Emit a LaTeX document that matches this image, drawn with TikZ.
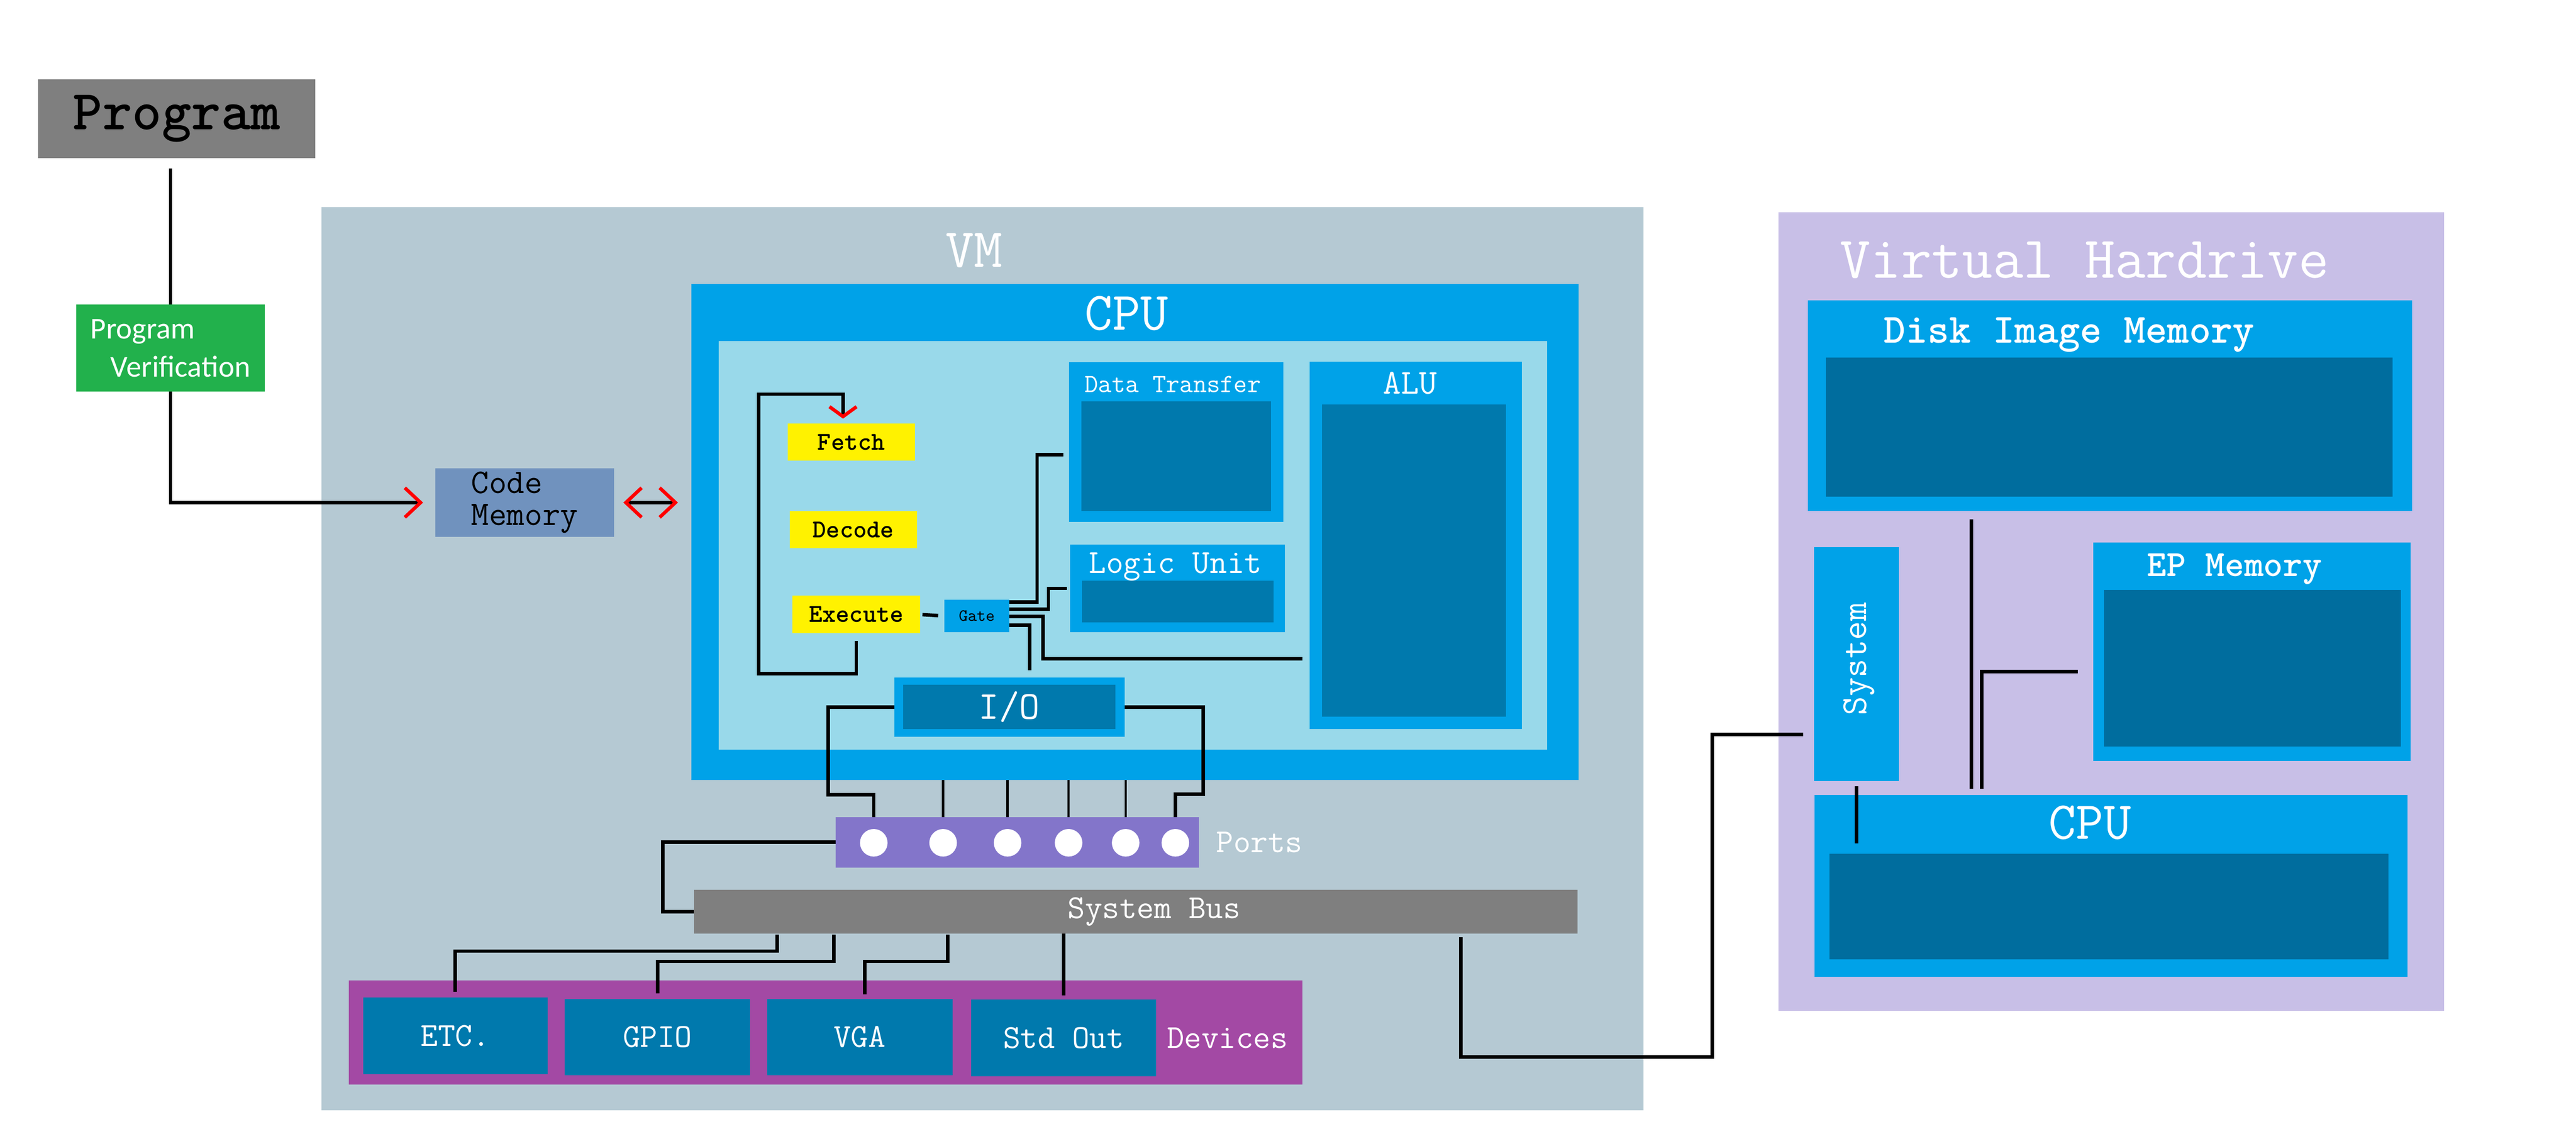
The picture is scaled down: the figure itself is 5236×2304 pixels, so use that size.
\documentclass[tikz,border=0pt]{standalone}
\usepackage{fontspec}
\setsansfont{Carlito}
\usepackage{tikz}
\usetikzlibrary{arrows.meta,positioning}
\definecolor{progGray}{RGB}{127,127,127}
\definecolor{verGreen}{RGB}{34,177,76}
\definecolor{memBlue}{RGB}{112,146,190}
\definecolor{vmGray}{RGB}{181,201,211}
\definecolor{cpuBlue}{RGB}{0,162,232}
\definecolor{cpuLight}{RGB}{153,217,234}
\definecolor{darkBlue}{RGB}{0,121,173}
\definecolor{hdDark}{RGB}{0,109,158}
\definecolor{stepYellow}{RGB}{255,242,0}
\definecolor{portPurple}{RGB}{131,117,202}
\definecolor{devPurple}{RGB}{163,73,164}
\definecolor{hdLav}{RGB}{200,191,231}

\begin{document}
\begin{tikzpicture}[x=0.01cm, y=-0.01cm, >={Straight Barb[red,length=0.32cm,width=0.6cm]},
    blk/.style={inner sep=0pt, outer sep=0pt, font=\ttfamily},
    wh/.style 2 args={minimum width=#1*0.01cm, minimum height=#2*0.01cm},
    ttl/.style={text=white, inner sep=0pt, outer sep=0pt, text depth=0pt},
    wire/.style={line width=2pt},
    thinwire/.style={line width=1.4pt},
    hole/.style={circle, fill=white, minimum size=0.56cm, inner sep=0pt}]
    \fill[white] (0,0) rectangle (5236,2304);
    \useasboundingbox (0,0) rectangle (5236,2304);
    % program and verification
    \node[blk, wh={564}{160}, fill=progGray, font=\ttfamily\bfseries\fontsize{32.6}{32.6}\selectfont] (prog) at (359,241) {Program};
    \node[blk, wh={383}{177}, fill=verGreen, text=white, align=left, font=\sffamily\fontsize{17.5}{22}\selectfont] (progver) at (346.5,707.5) {Program\\\hspace*{0.41cm}Verification};
    % VM
    \node[blk, wh={2688}{1836}, fill=vmGray] (vm) at (1997,1339) {};
    \node[ttl, font=\ttfamily\fontsize{32}{32}\selectfont] (vmtitle) at (1980,509) {VM};
    \node[blk, wh={363}{139}, fill=memBlue, align=left, font=\ttfamily\fontsize{20}{18.5}\selectfont] (codemem) at (1066.5,1021.5) {Code\\Memory};
    % CPU
    \node[blk, wh={1804}{1008}, fill=cpuBlue] (cpu) at (2307,1081) {};
    \node[ttl, font=\ttfamily\fontsize{31.4}{31.4}\selectfont] (cputitle) at (2290,636) {CPU};
    \node[blk, wh={1684}{831}, fill=cpuLight] (cpuin) at (2303,1108.5) {};
    \node[blk, wh={436}{325}, fill=cpuBlue] (datatr) at (2391,898.5) {};
    \node[blk, wh={385}{223}, fill=darkBlue] (datatrin) at (2390.5,927.5) {};
    \node[ttl, font=\ttfamily\fontsize{15.2}{15.2}\selectfont] (datatrtitle) at (2384,781) {Data Transfer};
    \node[blk, wh={431}{747}, fill=cpuBlue] (alu) at (2877.5,1108.5) {};
    \node[blk, wh={374}{635}, fill=darkBlue] (aluin) at (2874,1139.5) {};
    \node[ttl, font=\ttfamily\fontsize{20.2}{20.2}\selectfont] (alutitle) at (2866,778) {ALU};
    \node[blk, wh={437}{178}, fill=cpuBlue] (logic) at (2393.5,1196) {};
    \node[blk, wh={390}{85}, fill=darkBlue] (logicin) at (2394,1222.5) {};
    \node[ttl, font=\ttfamily\fontsize{19.4}{19.4}\selectfont] (logictitle) at (2389,1144) {Logic Unit};
    \node[blk, wh={259}{75}, fill=stepYellow, font=\ttfamily\bfseries\fontsize{14.9}{14.9}\selectfont] (fetch) at (1730.5,898.5) {Fetch};
    \node[blk, wh={259}{75}, fill=stepYellow, font=\ttfamily\bfseries\fontsize{14.9}{14.9}\selectfont] (decode) at (1734.5,1076.5) {Decode};
    \node[blk, wh={259}{76}, fill=stepYellow, font=\ttfamily\bfseries\fontsize{14.9}{14.9}\selectfont] (exec) at (1740.5,1249) {Execute};
    \node[blk, wh={131}{66}, fill=cpuBlue, font=\ttfamily\fontsize{9.9}{9.9}\selectfont] (gate) at (1985.5,1252) {Gate};
    \node[blk, wh={468}{120}, fill=cpuBlue] (io) at (2052,1437) {};
    \node[blk, wh={431}{90}, fill=darkBlue, text=white, font=\ttfamily\fontsize{22.9}{22.9}\selectfont] (ioin) at (2051.5,1437) {I/O};
    % ports, bus, devices
    \node[blk, wh={738}{102}, fill=portPurple] (ports) at (2068,1712) {};
    \node[hole] (p1) at (1776,1713) {};
    \node[hole] (p2) at (1917,1713) {};
    \node[hole] (p3) at (2048,1713) {};
    \node[hole] (p4) at (2172,1713) {};
    \node[hole] (p5) at (2288,1713) {};
    \node[hole] (p6) at (2389,1713) {};
    \node[ttl, font=\ttfamily\fontsize{19.4}{19.4}\selectfont, right=0.35cm of ports] (portslbl) {Ports};
    \node[blk, wh={1796}{88}, fill=progGray, text=white, font=\ttfamily\fontsize{19.4}{19.4}\selectfont] (bus) at (2309,1853) {\hspace*{0.74cm}System Bus};
    \node[blk, wh={1938}{211}, fill=devPurple] (devices) at (1678,2098.5) {};
    \node[blk, wh={375}{156}, fill=darkBlue, text=white, font=\ttfamily\fontsize{19.4}{19.4}\selectfont] (etc) at (925.5,2105) {ETC.};
    \node[blk, wh={377}{156}, fill=darkBlue, text=white, font=\ttfamily\fontsize{19.4}{19.4}\selectfont] (gpio) at (1336.5,2108) {GPIO};
    \node[blk, wh={377}{156}, fill=darkBlue, text=white, font=\ttfamily\fontsize{19.4}{19.4}\selectfont] (vga) at (1747.5,2108) {VGA};
    \node[blk, wh={376}{156}, fill=darkBlue, text=white, font=\ttfamily\fontsize{19.4}{19.4}\selectfont] (stdout) at (2162,2110) {Std Out};
    \node[ttl, font=\ttfamily\fontsize{19.4}{19.4}\selectfont, right=0.22cm of stdout] (devlbl) {Devices};
    % virtual hardrive
    \node[blk, wh={1353}{1624}, fill=hdLav] (vhd) at (4291.5,1243) {};
    \node[ttl, font=\ttfamily\fontsize{34.3}{34.3}\selectfont] (vhdtitle) at (4237,528) {Virtual Hardrive};
    \node[blk, wh={1228}{428}, fill=cpuBlue] (disk) at (4289,825) {};
    \node[blk, wh={1152}{283}, fill=hdDark] (diskin) at (4287,868.5) {};
    \node[ttl, font=\ttfamily\bfseries\fontsize{24}{24}\selectfont] (disktitle) at (4206,671) {Disk Image Memory};
    \node[blk, wh={173}{476}, fill=cpuBlue] (sys) at (3773.5,1350) {};
    \node[ttl, rotate=90, font=\ttfamily\fontsize{21.1}{21.1}\selectfont] (systitle) at (3770,1339) {System};
    \node[blk, wh={645}{444}, fill=cpuBlue] (ep) at (4577.5,1325) {};
    \node[blk, wh={603}{318}, fill=hdDark] (epin) at (4578.5,1358) {};
    \node[ttl, font=\ttfamily\bfseries\fontsize{21.4}{21.4}\selectfont] (eptitle) at (4542,1148) {EP Memory};
    \node[blk, wh={1205}{370}, fill=cpuBlue] (hcpu) at (4290.5,1801) {};
    \node[blk, wh={1136}{215}, fill=hdDark] (hcpuin) at (4287,1842.5) {};
    \node[ttl, font=\ttfamily\fontsize{30.9}{30.9}\selectfont] (hcputitle) at (4248,1671) {CPU};
    % taps
    \coordinate (tap1) at (1580,1900);
    \coordinate (tap2) at (1695,1900);
    \coordinate (tap3) at (1926,1900);
    \coordinate (tap4) at (2969,1905);
    \coordinate (hdbus) at (4007,1039);
    % wires
    \draw[wire, shorten <=0.21cm] (progver.north |- prog.south) -- (progver.north);
    \draw[wire, ->, shorten >=0.25cm] (progver.south) |- (codemem.west);
    \draw[wire, <->, shorten <=0.19cm, shorten >=0.27cm] (codemem.east) -- (codemem.east -| cpu.west);
    \draw[wire, -{Straight Barb[red,length=0.2cm,width=0.55cm]}, shorten <=0.16cm, shorten >=0.1cm] (exec.south) -- ++(0,82) -| (1542,801) -| ([xshift=-0.17cm]fetch.north);
    \draw[wire, shorten <=0.05cm, shorten >=0.13cm] (exec.east) -- (gate.west);
    \draw[wire, shorten >=0.12cm] ([yshift=0.28cm]gate.east) -- ++(57,0) |- ([yshift=-0.26cm]datatr.west);
    \draw[wire, shorten >=0.06cm] ([yshift=0.14cm]gate.east) -- ++(80,0) |- (logic.west);
    \draw[wire, shorten >=0.15cm] ([yshift=-0.01cm]gate.east) -- ++(69,0) |- ([yshift=-2.3cm]alu.west);
    \draw[wire, shorten >=0.15cm] ([yshift=-0.19cm]gate.east) -| ([xshift=0.41cm]io.north);
    \draw[wire] (io.west) -- ++(-135,0) -- ++(0,178) -| (p1 |- ports.north);
    \draw[wire] (io.east) -- ++(160,0) -- ++(0,177) -| (p6 |- ports.north);
    \draw[thinwire] (p2 |- cpu.south) -- (p2 |- ports.north);
    \draw[thinwire] (p3 |- cpu.south) -- (p3 |- ports.north);
    \draw[thinwire] (p4 |- cpu.south) -- (p4 |- ports.north);
    \draw[thinwire] (p5 |- cpu.south) -- (p5 |- ports.north);
    \draw[wire] (ports.west) -- ++(-352,0) |- (bus.west);
    \draw[wire, shorten >=0.11cm] (tap1) -- ++(0,33) -| (etc.north);
    \draw[wire, shorten >=0.11cm] (tap2) -- ++(0,54) -| (gpio.north);
    \draw[wire, shorten >=0.09cm] (tap3) -- ++(0,54) -| ([xshift=0.1cm]vga.north);
    \draw[wire, shorten >=0.09cm] (stdout.north |- bus.south) -- (stdout.north);
    \draw[wire, shorten >=0.22cm] (tap4) |- (3480,2148) |- ([yshift=-1.43cm]sys.west);
    \draw[wire, shorten <=0.1cm, shorten >=0.21cm] (sys.south) -- (sys.south |- hcpuin.north);
    \draw[wire, shorten <=0.17cm, shorten >=0.13cm] (hdbus) -- (hdbus |- hcpu.north);
    \draw[wire, shorten <=0.32cm, shorten >=0.13cm] ([yshift=-0.4cm]ep.west) -| ([xshift=-2.625cm]hcpu.north);
\end{tikzpicture}
\end{document}
